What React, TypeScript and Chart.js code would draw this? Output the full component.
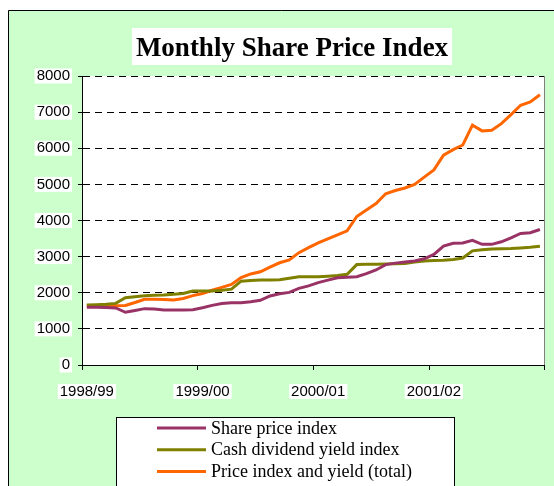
import React, { useEffect, useRef } from 'react';
import { Chart, registerables } from 'chart.js';

Chart.register(...registerables);

const TITLE = 'Monthly Share Price Index';
const YEAR_LABELS = ['1998/99', '1999/00', '2000/01', '2001/02'];
const MONTH_NAMES = ['Jul', 'Aug', 'Sep', 'Oct', 'Nov', 'Dec', 'Jan', 'Feb', 'Mar', 'Apr', 'May', 'Jun'];
const SERIES_NAMES = ['Share price index', 'Cash dividend yield index', 'Price index and yield (total)'];
const SERIES_COLORS = ['#993366', '#808000', '#FF6600'];

const SHARE_PRICE = [
  1600, 1600, 1590, 1580, 1460, 1510, 1560, 1550, 1525, 1520, 1520, 1530,
  1585, 1650, 1705, 1720, 1720, 1750, 1790, 1910, 1970, 2010, 2120, 2190,
  2280, 2350, 2415, 2430, 2445, 2530, 2630, 2780, 2820, 2850, 2880, 2940,
  3060, 3290, 3370, 3380, 3450, 3340, 3340, 3410, 3520, 3640, 3660, 3750,
];
const CASH_DIVIDEND = [
  1660, 1670, 1680, 1705, 1860, 1890, 1920, 1930, 1940, 1960, 1980, 2050,
  2050, 2050, 2070, 2100, 2320, 2340, 2350, 2350, 2360, 2400, 2440, 2445,
  2445, 2460, 2480, 2510, 2780, 2790, 2790, 2795, 2800, 2810, 2850, 2880,
  2890, 2900, 2920, 2960, 3160, 3190, 3210, 3220, 3225, 3240, 3260, 3290,
];
const TOTAL_INDEX = [
  1640, 1640, 1640, 1640, 1650, 1730, 1817, 1820, 1810, 1800, 1840, 1920,
  1980, 2070, 2150, 2230, 2420, 2520, 2580, 2710, 2830, 2910, 3110, 3250,
  3380, 3490, 3600, 3714, 4110, 4290, 4470, 4740, 4830, 4900, 5000, 5200,
  5400, 5810, 5960, 6090, 6640, 6480, 6500, 6680, 6930, 7190, 7280, 7480,
];
const Y_MIN = 0;
const Y_MAX = 8000;
const Y_STEP = 1000;

const CATEGORIES = YEAR_LABELS.flatMap((y) => MONTH_NAMES.map((m) => `${m} ${y}`));

const SANS = '"Liberation Sans", Arial, sans-serif';
const SERIF = '"Liberation Serif", "Times New Roman", serif';

const decorPlugin = {
  id: 'decor',
  beforeDraw(chart: any) {
    const { ctx, chartArea } = chart;
    ctx.save();
    ctx.fillStyle = '#CCFFCC';
    ctx.fillRect(8, 10, chart.width - 8, chart.height - 10);
    ctx.strokeStyle = '#000';
    ctx.lineWidth = 1;
    ctx.beginPath();
    ctx.moveTo(8.5, chart.height);
    ctx.lineTo(8.5, 10.5);
    ctx.lineTo(chart.width, 10.5);
    ctx.stroke();
    ctx.fillStyle = '#fff';
    ctx.fillRect(chartArea.left, chartArea.top, chartArea.right - chartArea.left, chartArea.bottom - chartArea.top);
    // title
    ctx.font = `bold 27px ${SERIF}`;
    const tw = ctx.measureText(TITLE).width;
    const cx = 292;
    ctx.fillStyle = '#fff';
    ctx.fillRect(cx - tw / 2 - 4, 28, tw + 8, 37);
    ctx.fillStyle = '#000';
    ctx.textAlign = 'center';
    ctx.textBaseline = 'alphabetic';
    ctx.fillText(TITLE, cx, 56);
    ctx.restore();
  },
  afterDraw(chart: any) {
    const { ctx, chartArea } = chart;
    ctx.save();
    ctx.strokeStyle = '#808080';
    ctx.lineWidth = 1;
    ctx.beginPath();
    ctx.moveTo(Math.round(chartArea.right) - 0.5, chartArea.top);
    ctx.lineTo(Math.round(chartArea.right) - 0.5, chartArea.bottom);
    ctx.stroke();
    // legend
    const lx = 116, ly = 417, lw = 338;
    ctx.fillStyle = '#fff';
    ctx.fillRect(lx, ly, lw, chart.height - ly + 5);
    ctx.strokeStyle = '#000';
    ctx.strokeRect(lx + 0.5, ly + 0.5, lw, chart.height - ly + 5);
    ctx.font = `18px ${SERIF}`;
    ctx.textAlign = 'left';
    ctx.textBaseline = 'middle';
    chart.data.datasets.forEach((ds: any, i: number) => {
      const y = 428 + i * 21.7;
      ctx.strokeStyle = ds.borderColor;
      ctx.lineWidth = 3;
      ctx.beginPath();
      ctx.moveTo(157, y);
      ctx.lineTo(206, y);
      ctx.stroke();
      ctx.fillStyle = '#000';
      ctx.fillText(ds.label, 211, y + 1);
    });
    ctx.restore();
  },
};

export default function App() {
  const ref = useRef<HTMLCanvasElement | null>(null);
  useEffect(() => {
    if (!ref.current) return;
    const chart = new Chart(ref.current, {
      type: 'line',
      data: {
        labels: CATEGORIES,
        datasets: [
          { label: SERIES_NAMES[0], data: SHARE_PRICE, borderColor: SERIES_COLORS[0] },
          { label: SERIES_NAMES[1], data: CASH_DIVIDEND, borderColor: SERIES_COLORS[1] },
          { label: SERIES_NAMES[2], data: TOTAL_INDEX, borderColor: SERIES_COLORS[2] },
        ].map((d) => ({ ...d, backgroundColor: d.borderColor, borderWidth: 3, pointRadius: 0, tension: 0, fill: false })),
      },
      options: {
        responsive: false,
        animation: false,
        devicePixelRatio: 1,
        layout: { padding: { left: 0, top: 76, right: 7, bottom: 0 } },
        plugins: { legend: { display: false }, title: { display: false }, tooltip: { enabled: false } },
        scales: {
          x: {
            type: 'category',
            offset: true,
            grid: {
              offset: true,
              drawOnChartArea: false,
              drawTicks: true,
              tickLength: 5,
              tickWidth: 1,
              tickColor: (ctx: any) => (ctx.index === undefined || ctx.index % 12 === 0 ? '#000' : 'rgba(0,0,0,0)'),
            },
            border: { display: true, color: '#000', width: 1 },
            ticks: {
              autoSkip: false,
              maxRotation: 0,
              minRotation: 0,
              padding: 14,
              color: '#000',
              font: { family: SANS, size: 15, lineHeight: 1 },
              callback: (_v: any, i: number) => (i % 12 === 0 ? YEAR_LABELS[i / 12] : ''),
              showLabelBackdrop: (ctx: any) => ctx.index % 12 === 0,
              backdropColor: '#fff',
              backdropPadding: { left: 2, right: 2, top: 0, bottom: 0 },
            },
            afterFit: (s: any) => { s.height = 121; },
          },
          y: {
            min: Y_MIN,
            max: Y_MAX,
            grid: {
              color: '#000',
              lineWidth: 1,
              tickLength: 4,
              tickColor: '#000',
              tickBorderDash: [],
            },
            border: { display: true, color: '#000', width: 1, dash: [7, 5] },
            ticks: {
              stepSize: Y_STEP,
              padding: 8,
              color: '#000',
              font: { family: SANS, size: 15, lineHeight: 1 },
              callback: (v: any) => String(v),
              showLabelBackdrop: true,
              backdropColor: '#fff',
              backdropPadding: { left: 2, right: 2, top: 0, bottom: 0 },
            },
            afterFit: (s: any) => { s.width = 82; },
          },
        },
      } as any,
      plugins: [decorPlugin],
    });
    return () => chart.destroy();
  }, []);
  return (
    <canvas
      ref={ref}
      width={554}
      height={486}
      style={{ position: 'fixed', left: 0, top: 0, width: 554, height: 486 }}
    />
  );
}
